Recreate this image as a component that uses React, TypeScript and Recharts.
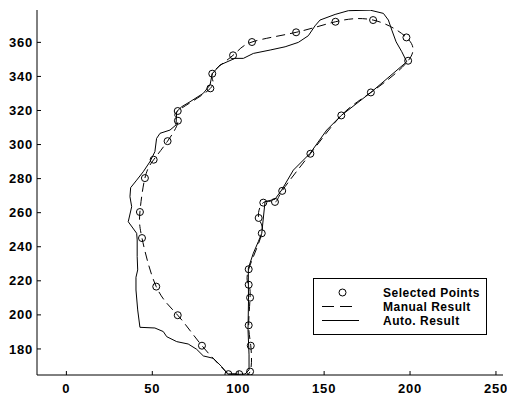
import { Legend, Scatter, ScatterChart, XAxis, YAxis } from "recharts";

const xTicks = [0, 50, 100, 150, 200, 250];
const yTicks = [180, 200, 220, 240, 260, 280, 300, 320, 340, 360];

// selected points, going round the outline from the bottom
const selectedX = [
  94.3, 100.6, 106.9, 107.3, 106.1, 106.9, 106.1, 106.1, 113.7, 111.9, 114.6, 121.4, 125.6, 142.0, 160.0, 177.2,
  198.9, 197.9, 178.5, 156.6, 133.7, 108.0, 97.0, 84.9, 83.8, 64.8, 64.9, 58.9, 50.8, 45.7, 42.8, 44.0, 52.3, 64.8,
  78.9,
];
const selectedY = [
  165.2, 165.2, 166.7, 181.9, 193.9, 210.1, 217.7, 226.8, 247.9, 256.9, 265.9, 266.3, 272.8, 294.6, 317.1, 330.6,
  349.2, 362.9, 373.1, 372.1, 365.9, 360.2, 352.4, 341.6, 333.0, 319.7, 314.0, 302.0, 291.1, 280.3, 260.4, 245.1,
  216.6, 199.8, 181.9,
];

// automatic contour
const autoX = [
  93.9, 99.3, 104.0, 106.3, 106.3, 105.7, 106.0, 105.9, 105.9, 108.8, 111.7, 113.7, 115.6, 121.4, 125.3, 132.1, 141.8,
  151.5, 160.0, 177.2, 198.1, 195.2, 191.9, 189.4, 187.4, 184.5, 176.8, 164.1, 156.4, 147.6, 144.7, 140.8, 135.0,
  127.3, 118.6, 108.8, 103.0, 98.1, 89.4, 84.9, 83.6, 79.7, 71.9, 67.1, 64.2, 63.8, 60.3, 54.5, 52.5, 51.5, 48.6,
  44.7, 40.9, 37.4, 37.0, 38.0, 36.0, 40.9, 41.2, 41.2, 41.5, 40.5, 40.5, 41.5, 42.8, 51.5, 56.4, 58.4, 64.2, 70.9,
  75.8, 79.7, 85.5, 90.4, 93.9,
];
const autoY = [
  165.2, 165.0, 165.3, 167.7, 176.5, 191.2, 208.8, 220.5, 227.4, 236.2, 243.0, 247.9, 266.4, 267.9, 273.3, 285.0,
  294.8, 308.5, 317.1, 330.6, 348.6, 354.5, 360.3, 367.2, 373.1, 377.0, 378.9, 378.6, 376.4, 373.1, 369.7, 363.9,
  360.0, 357.4, 355.5, 353.5, 350.6, 350.6, 346.7, 341.6, 335.0, 330.1, 325.1, 322.2, 319.3, 311.5, 308.5, 306.6,
  303.6, 295.8, 289.9, 284.0, 279.1, 274.7, 269.4, 263.5, 254.7, 247.9, 244.0, 234.2, 226.4, 222.1, 214.6, 202.9,
  192.7, 192.3, 190.2, 187.2, 184.3, 182.9, 179.8, 175.9, 174.5, 169.6, 165.2,
];

const toPoints = (xs: number[], ys: number[]) => xs.map((x, i) => ({ x, y: ys[i] }));

const selectedData = toPoints(selectedX, selectedY);
const manualData = [...selectedData, selectedData[0]];
const autoData = toPoints(autoX, autoY);

const font = '"Liberation Sans", Arial, sans-serif';
const tickStyle = { fill: "#000", fontSize: 13, fontWeight: "bold", fontFamily: font, letterSpacing: 0.8 };
const xDomain = [-17.1, 254.1];
const yDomain = [164.7, 379];

function LegendBox() {
  return (
    <svg width={174} height={57} style={{ display: "block" }}>
      <rect x={0.5} y={0.5} width={173} height={56} fill="#fff" stroke="#000" />
      <circle cx={29.5} cy={14.5} r={3.5} fill="none" stroke="#000" />
      <line x1={9} x2={42} y1={28.5} y2={28.5} stroke="#000" strokeDasharray="12 6" />
      <line x1={9} x2={46} y1={42.5} y2={42.5} stroke="#000" />
      <g fontFamily={font} fontSize={12} fontWeight="bold" letterSpacing={0.5} fill="#000">
        <text x={70} y={18.7}>Selected Points</text>
        <text x={70} y={32.5}>Manual Result</text>
        <text x={70} y={46.8}>Auto. Result</text>
      </g>
    </svg>
  );
}

export default function App() {
  return (
    <div style={{ position: "absolute", left: 0, top: 0, width: 507, height: 396, background: "#fff" }}>
      <ScatterChart width={507} height={396} margin={{ top: 10, right: 4, bottom: 0, left: 0 }}>
        <XAxis
          type="number"
          dataKey="x"
          domain={xDomain}
          allowDataOverflow
          ticks={xTicks}
          interval={0}
          height={21}
          stroke="#000"
          tickSize={-4}
          tickMargin={13}
          tick={tickStyle}
        />
        <XAxis
          xAxisId="top"
          orientation="top"
          type="number"
          dataKey="x"
          domain={xDomain}
          allowDataOverflow
          ticks={xTicks}
          interval={0}
          height={0}
          stroke="#000"
          tickSize={-4}
          tick={false}
        />
        <YAxis
          type="number"
          dataKey="y"
          domain={yDomain}
          allowDataOverflow
          ticks={yTicks}
          interval={0}
          width={37}
          stroke="#000"
          tickSize={-4}
          tickMargin={8}
          tick={tickStyle}
        />
        <YAxis
          yAxisId="right"
          orientation="right"
          type="number"
          dataKey="y"
          domain={yDomain}
          allowDataOverflow
          ticks={yTicks}
          interval={0}
          width={0}
          stroke="#000"
          tickSize={-4}
          tick={false}
        />
        <Scatter
          name="Auto. Result"
          data={autoData}
          fill="#000"
          line={{ stroke: "#000", strokeWidth: 1 }}
          lineJointType="linear"
          shape={() => <g />}
          isAnimationActive={false}
        />
        <Scatter
          name="Manual Result"
          data={manualData}
          fill="#000"
          line={{ stroke: "#000", strokeWidth: 1, strokeDasharray: "9 5" }}
          lineJointType="natural"
          shape={() => <g />}
          isAnimationActive={false}
        />
        <Scatter
          name="Selected Points"
          data={selectedData}
          fill="none"
          shape={(p: any) => <circle cx={p.cx} cy={p.cy} r={3.5} fill="none" stroke="#000" />}
          isAnimationActive={false}
        />
        <Legend
          layout="vertical"
          align="center"
          verticalAlign="middle"
          content={() => <LegendBox />}
          wrapperStyle={{ position: "absolute", left: 313, top: 278, width: 174, height: 57 }}
        />
      </ScatterChart>
    </div>
  );
}
